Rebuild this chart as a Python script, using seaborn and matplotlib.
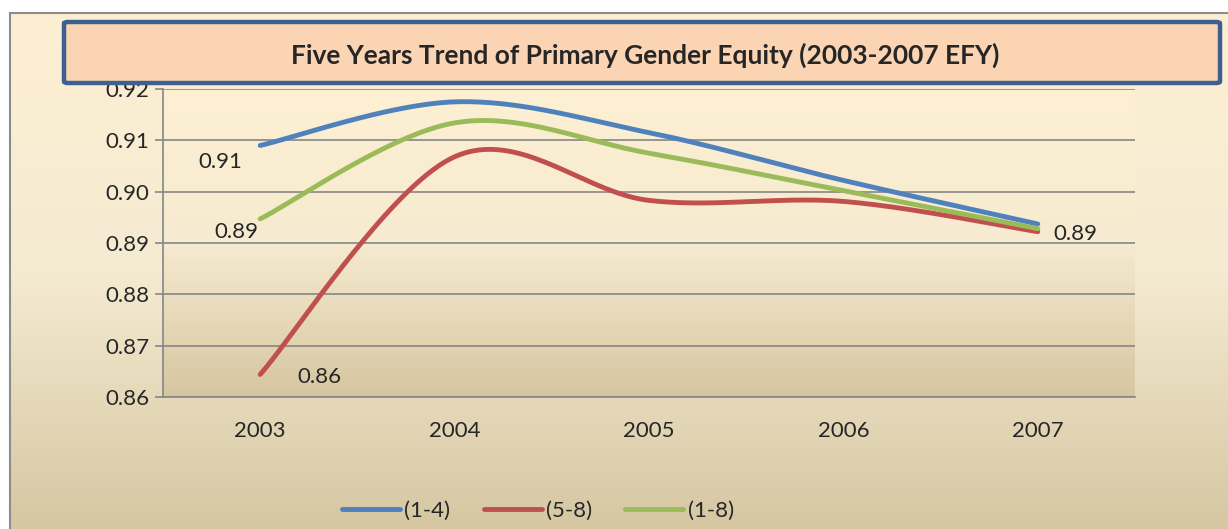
import numpy as np
import pandas as pd
import matplotlib
matplotlib.use("Agg")
import matplotlib.pyplot as plt
import seaborn as sns
from matplotlib.patches import FancyBboxPatch, Rectangle
from matplotlib.colors import LinearSegmentedColormap
from matplotlib.lines import Line2D

# data
years = ["2003", "2004", "2005", "2006", "2007"]
grade_1_4 = [0.909, 0.9175, 0.9115, 0.9022, 0.8937]
grade_5_8 = [0.8644, 0.9068, 0.8983, 0.8981, 0.8922]
grade_1_8 = [0.8947, 0.9134, 0.9075, 0.9002, 0.8928]
series_names = ["(1-4)", "(5-8)", "(1-8)"]
colors = ["#4F81BD", "#C0504D", "#9BBB59"]

sns.set_theme(style="white")
plt.rcParams['font.family'] = ['Lato', 'DejaVu Sans']
FS = 16


def smooth(x, y, n=40):
    # Excel style smoothed line: cubic bezier with catmull-rom control points
    pts = np.column_stack([x, y]).astype(float)
    out = []
    for i in range(len(pts) - 1):
        p0 = pts[i - 1] if i > 0 else pts[i]
        p1, p2 = pts[i], pts[i + 1]
        p3 = pts[i + 2] if i + 2 < len(pts) else pts[i + 1]
        c1 = p1 + (p2 - p0) / 6
        c2 = p2 - (p3 - p1) / 6
        t = np.linspace(0, 1, n)[:, None]
        seg = ((1 - t) ** 3) * p1 + 3 * ((1 - t) ** 2) * t * c1 + 3 * (1 - t) * t ** 2 * c2 + t ** 3 * p2
        out.append(seg if i == 0 else seg[1:])
    out = np.vstack(out)
    return out[:, 0], out[:, 1]


fig = plt.figure(figsize=(12.28, 5.29), dpi=100)
fig.patch.set_facecolor("white")

# chart area background with gradient
bg = fig.add_axes([10 / 1228, 0, 1, 1 - 13 / 529], zorder=-2)
bg_cmap = LinearSegmentedColormap.from_list("bg", ["#FDEFD3", "#F5EBD2", "#D6C7A2"])
bg.imshow(np.linspace(0, 1, 256)[:, None], cmap=bg_cmap, aspect="auto", extent=[0, 1, 0, 1])
bg.set_xlim(0, 1)
bg.set_ylim(0, 1)
bg.set_xticks([])
bg.set_yticks([])
for s in ["right", "bottom"]:
    bg.spines[s].set_visible(False)
for s in ["left", "top"]:
    bg.spines[s].set_color("#8C8C8C")
    bg.spines[s].set_linewidth(1.5)

ax = fig.add_axes([163 / 1228, 1 - 397 / 529, (1135 - 163) / 1228, (397 - 89) / 529])
ax.set_facecolor("none")
pa_cmap = LinearSegmentedColormap.from_list("pa", ["#FDF0D3", "#F6EAD0", "#D6C6A0"])
ax.imshow(np.linspace(0, 1, 256)[:, None], cmap=pa_cmap, aspect="auto",
          extent=[-0.5, 4.5, 0.86, 0.92], zorder=0)

xpos = np.arange(len(years))
for vals, name, col in zip([grade_1_4, grade_5_8, grade_1_8], series_names, colors):
    sx, sy = smooth(xpos, vals)
    sns.lineplot(x=sx, y=sy, sort=False, color=col, lw=3.5, ax=ax, zorder=3,
                 solid_capstyle="round", estimator=None)

ax.set_xlim(-0.5, 4.5)
ax.set_ylim(0.86, 0.92)
ax.set_yticks(np.arange(0.86, 0.9201, 0.01))
ax.set_yticklabels([f"{v:.2f}" for v in np.arange(0.86, 0.9201, 0.01)], fontsize=FS)
ax.set_xticks(xpos)
ax.set_xticklabels(years, fontsize=FS)
ax.set_xticks(np.arange(-0.5, 4.6, 1), minor=True)
ax.tick_params(axis="x", which="major", length=0, pad=17)
ax.tick_params(axis="x", which="minor", length=6, width=1.2, color="#868686", direction="out")
ax.tick_params(axis="y", length=6, width=1.2, color="#868686", direction="out", left=True, pad=4)
ax.grid(axis="y", color="#868686", lw=1.2, zorder=1)
ax.set_axisbelow(True)
for s in ["top", "right"]:
    ax.spines[s].set_visible(False)
for s in ["left", "bottom"]:
    ax.spines[s].set_color("#868686")
    ax.spines[s].set_linewidth(1.2)

# data labels
lab_kw = dict(textcoords="offset points", fontsize=FS, va="center", zorder=4)
ax.annotate(f"{grade_1_4[0]:.2f}", (0, grade_1_4[0]), xytext=(-29, -12), ha="center", **lab_kw)
ax.annotate(f"{grade_1_8[0]:.2f}", (0, grade_1_8[0]), xytext=(-17, -9.5), ha="center", **lab_kw)
ax.annotate(f"{grade_5_8[0]:.2f}", (0, grade_5_8[0]), xytext=(43, -2), ha="center", **lab_kw)
ax.annotate(f"{grade_5_8[4]:.2f}", (4, grade_5_8[4]), xytext=(27, -1.5), ha="center", **lab_kw)

# title box
box = FancyBboxPatch((64 / 1228, 1 - 83 / 529), (1220 - 64) / 1228, 61 / 529,
                     boxstyle="round,pad=0,rounding_size=0.003", transform=fig.transFigure,
                     facecolor="#FBD4B4", edgecolor="#3C6190", lw=3.2, zorder=5)
fig.patches.append(box)
fig.text(645 / 1228, 1 - 55 / 529, "Five Years Trend of Primary Gender Equity (2003-2007 EFY)",
         ha="center", va="center", fontsize=19, fontweight="bold", zorder=6)

handles = [Line2D([], [], color=c, lw=3.5, solid_capstyle="round") for c in colors]
fig.legend(handles, series_names, loc="center", bbox_to_anchor=(538 / 1228, 1 - 511 / 529),
           ncol=3, frameon=False, fontsize=FS, handlelength=2.6, handletextpad=0.2,
           columnspacing=1.5)

fig.savefig("out.png", dpi=100)
